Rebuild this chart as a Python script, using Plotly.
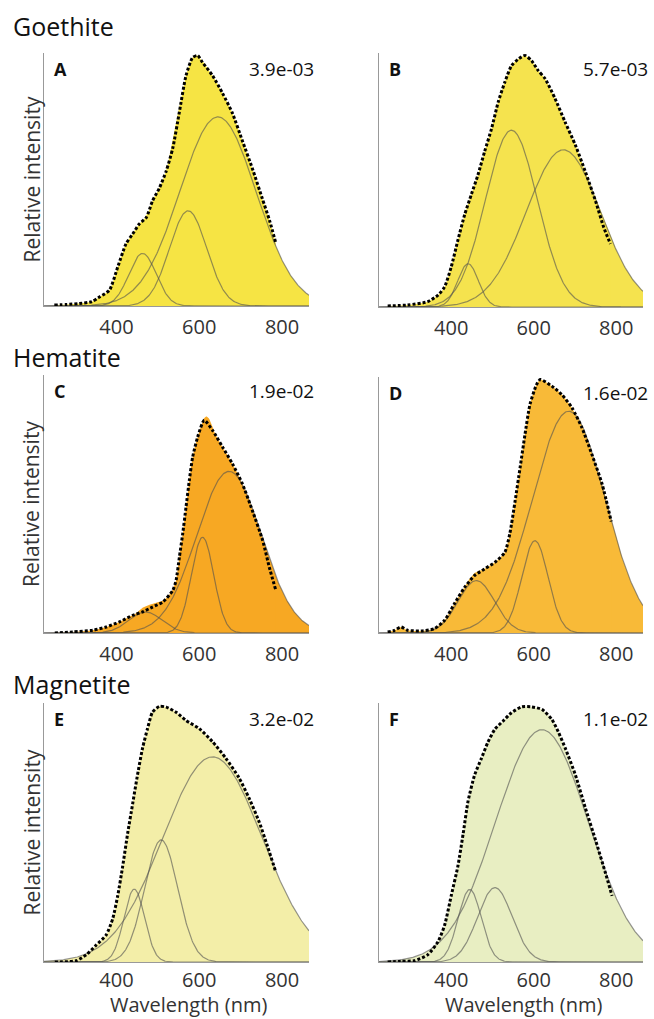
import numpy as np
import plotly.graph_objects as go

W, H = 654, 1019
FONT = "Open Sans"

minerals = ["Goethite", "Hematite", "Magnetite"]
panel_letters = ["A", "B", "C", "D", "E", "F"]
scale_labels = ["3.9e-03", "5.7e-03", "1.9e-02", "1.6e-02", "3.2e-02", "1.1e-02"]
fill_colors = ["#F6E444", "#F5E34E", "#F7A823", "#F8BA38", "#F3EEA8", "#E8EEC2"]
tick_values = [400, 600, 800]
x_range = [225, 865]
y_max = [1.01, 1.01, 1.213, 1.01, 1.01, 1.01]

# measured spectra (normalised to peak)
wl_A = [250, 280, 310, 340, 360, 383, 403, 423, 439, 455, 472, 487, 504, 520, 536, 552, 568, 584, 596, 608, 632, 656, 680, 704, 728, 752, 770, 785]
int_A = [0.004, 0.006, 0.01, 0.017, 0.037, 0.063, 0.155, 0.248, 0.287, 0.327, 0.353, 0.419, 0.472, 0.538, 0.63, 0.775, 0.92, 0.992, 1.0, 0.972, 0.92, 0.85, 0.77, 0.66, 0.55, 0.43, 0.34, 0.25]
wl_B = [246, 294, 343, 368, 384, 400, 416, 433, 449, 465, 481, 498, 514, 530, 546, 562, 579, 595, 611, 628, 652, 676, 701, 725, 750, 770, 786]
int_B = [0.004, 0.008, 0.021, 0.047, 0.08, 0.159, 0.264, 0.369, 0.448, 0.526, 0.618, 0.71, 0.815, 0.894, 0.959, 0.985, 1.0, 0.979, 0.94, 0.907, 0.828, 0.736, 0.644, 0.539, 0.421, 0.316, 0.251]
wl_C = [251, 295, 343, 375, 407, 439, 463, 487, 512, 536, 544, 552, 560, 568, 576, 584, 596, 612, 632, 656, 680, 704, 728, 753, 769, 785]
int_C = [0.0, 0.005, 0.013, 0.028, 0.052, 0.083, 0.099, 0.122, 0.146, 0.2, 0.248, 0.357, 0.467, 0.592, 0.718, 0.827, 0.921, 1.0, 0.953, 0.875, 0.796, 0.702, 0.577, 0.436, 0.31, 0.2]
wl_D = [246, 262, 278, 294, 327, 359, 384, 408, 433, 457, 481, 506, 530, 542, 555, 567, 579, 591, 607, 616, 644, 668, 693, 717, 741, 766, 788]
int_D = [0.004, 0.01, 0.024, 0.011, 0.008, 0.017, 0.05, 0.116, 0.181, 0.227, 0.253, 0.279, 0.318, 0.391, 0.521, 0.652, 0.784, 0.902, 0.98, 1.0, 0.974, 0.941, 0.888, 0.81, 0.705, 0.587, 0.44]
wl_E = [251, 303, 327, 351, 375, 391, 403, 415, 427, 439, 451, 463, 475, 487, 504, 520, 544, 568, 600, 632, 664, 696, 720, 745, 765, 785]
int_E = [0.0, 0.005, 0.028, 0.066, 0.105, 0.169, 0.258, 0.373, 0.501, 0.616, 0.731, 0.834, 0.91, 0.974, 0.997, 0.994, 0.974, 0.942, 0.91, 0.859, 0.795, 0.718, 0.64, 0.545, 0.45, 0.35]
wl_F = [246, 278, 311, 343, 368, 384, 400, 416, 429, 441, 457, 473, 489, 506, 526, 546, 571, 595, 620, 644, 660, 677, 701, 725, 750, 774, 790]
int_F = [0.0, 0.003, 0.005, 0.028, 0.079, 0.143, 0.258, 0.372, 0.5, 0.628, 0.73, 0.793, 0.857, 0.908, 0.94, 0.972, 0.995, 0.995, 0.985, 0.946, 0.896, 0.832, 0.73, 0.602, 0.475, 0.347, 0.258]

# fitted Gaussian components: centre (nm), height, width sigma (nm)
center_A = [463, 573, 645]; height_A = [0.21, 0.38, 0.755]; sigma_A = [33, 45, 92]
center_B = [441, 546, 672]; height_B = [0.172, 0.703, 0.625]; sigma_B = [25, 63, 90]
center_C = [470, 608, 672]; height_C = [0.099, 0.45, 0.76]; sigma_C = [40, 27, 78]
center_D = [461, 603, 685]; height_D = [0.207, 0.364, 0.875]; sigma_D = [44, 32, 88]
center_E = [443, 508, 632]; height_E = [0.284, 0.476, 0.8]; sigma_E = [25, 40, 120]
center_F = [445, 506, 620]; height_F = [0.283, 0.29, 0.906]; sigma_F = [28, 42, 112]

measured = [(wl_A, int_A), (wl_B, int_B), (wl_C, int_C), (wl_D, int_D), (wl_E, int_E), (wl_F, int_F)]
components = [(center_A, height_A, sigma_A), (center_B, height_B, sigma_B), (center_C, height_C, sigma_C),
              (center_D, height_D, sigma_D), (center_E, height_E, sigma_E), (center_F, height_F, sigma_F)]

# layout (pixel boxes: left, right, top, bottom)
boxes = [(44, 309, 53, 306), (379, 643, 53, 307),
         (44, 309, 375, 633), (379, 643, 377, 633),
         (44, 309, 703, 962), (379, 643, 703, 962)]

fig = go.Figure()
grid = np.linspace(x_range[0], x_range[1], 400)
layout = dict(width=W, height=H, margin=dict(l=0, r=0, t=0, b=0), showlegend=False,
              plot_bgcolor="white", paper_bgcolor="white", font=dict(family=FONT))
annotations = []

for i in range(6):
    xa = "x" if i == 0 else f"x{i+1}"
    ya = "y" if i == 0 else f"y{i+1}"
    l, r, t, b = boxes[i]
    row3 = i >= 4
    layout["xaxis" if i == 0 else f"xaxis{i+1}"] = dict(
        domain=[l / W, r / W], range=x_range, anchor=ya, tickvals=tick_values,
        showgrid=False, zeroline=False, showline=True, linecolor="#999999", linewidth=1,
        ticks="" if row3 else "outside", ticklen=3, tickcolor="rgba(0,0,0,0)",
        tickfont=dict(family=FONT, size=20, color="#333333"))
    layout["yaxis" if i == 0 else f"yaxis{i+1}"] = dict(
        domain=[1 - b / H, 1 - t / H], range=[0, y_max[i]], anchor=xa,
        showgrid=False, zeroline=False, showline=True, linecolor="#999999", linewidth=1,
        showticklabels=False, ticks="")

    cen, hei, sig = components[i]
    comps = [h * np.exp(-0.5 * ((grid - c) / s) ** 2) for c, h, s in zip(cen, hei, sig)]
    total = np.sum(comps, axis=0)
    col = fill_colors[i]
    wl, it = measured[i]
    # fitted envelope fill
    fig.add_trace(go.Scatter(x=grid, y=total, mode="lines", line=dict(width=0, color=col),
                             fill="tozeroy", fillcolor=col, xaxis=xa, yaxis=ya, hoverinfo="skip"))
    # measured spectrum fill
    fig.add_trace(go.Scatter(x=wl, y=it, mode="lines", line=dict(width=0, color=col, shape="spline", smoothing=0.6),
                             fill="tozeroy", fillcolor=col, xaxis=xa, yaxis=ya, hoverinfo="skip"))
    for comp in comps:
        fig.add_trace(go.Scatter(x=grid, y=comp, mode="lines",
                                 line=dict(width=1.2, color="rgba(80,80,80,0.6)"), xaxis=xa, yaxis=ya))
    # measured points
    fig.add_trace(go.Scatter(x=wl, y=it, mode="lines",
                             line=dict(width=3, color="#000000", dash="3px,2px", shape="spline", smoothing=0.6),
                             xaxis=xa, yaxis=ya))

    annotations.append(dict(text=f"<b>{panel_letters[i]}</b>", xref="paper", yref="paper",
                            x=(l + 8) / W, y=1 - (t + 16) / H, xanchor="left", yanchor="middle",
                            showarrow=False, font=dict(family=FONT, size=18, color="#111111")))
    annotations.append(dict(text=scale_labels[i], xref="paper", yref="paper",
                            x=(r + 7) / W, y=1 - (t + 16) / H, xanchor="right", yanchor="middle",
                            showarrow=False, font=dict(family=FONT, size=19, color="#111111")))

# row titles and axis titles
title_y = [26, 357, 684]
for k, name in enumerate(minerals):
    annotations.append(dict(text=name, xref="paper", yref="paper", x=11 / W, y=1 - title_y[k] / H,
                            xanchor="left", yanchor="middle", showarrow=False,
                            font=dict(family=FONT, size=25, color="#111111")))
    l, r, t, b = boxes[2 * k]
    annotations.append(dict(text="Relative intensity", xref="paper", yref="paper", x=31 / W,
                            y=1 - (t + b) / 2 / H, xanchor="center", yanchor="middle", textangle=-90,
                            showarrow=False, font=dict(family=FONT, size=21, color="#333333")))
for k in (4, 5):
    l, r, t, b = boxes[k]
    annotations.append(dict(text="Wavelength (nm)", xref="paper", yref="paper", x=((l + r) / 2 + 12) / W,
                            y=0, xanchor="center", yanchor="bottom", showarrow=False,
                            borderpad=0, font=dict(family=FONT, size=20, color="#333333")))

layout["annotations"] = annotations
fig.update_layout(**layout)
fig.write_html("out.html")
